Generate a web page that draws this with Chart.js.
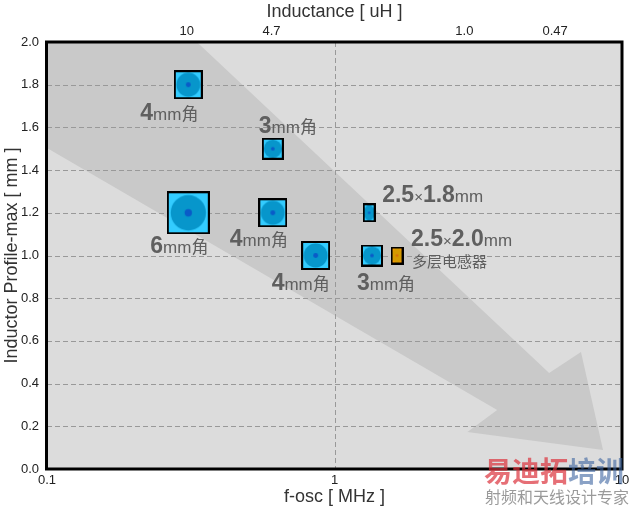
<!DOCTYPE html>
<html>
<head>
<meta charset="utf-8">
<script src="https://cdn.jsdelivr.net/npm/chart.js@4/dist/chart.umd.min.js"></script>
<style>
  html, body { margin: 0; padding: 0; background: #fff; }
  #wrap { width: 638px; height: 508px; }
</style>
</head>
<body>
<div id="wrap"><canvas id="chart" width="638" height="508"></canvas></div>
<script>
// wire-wound inductors (blue)
const wwFreq = [0.31, 0.61, 0.31, 0.61, 0.86, 1.32, 1.35];
const wwProfile = [1.8, 1.5, 1.2, 1.2, 1.0, 1.2, 1.0];
const wwLabels = ['4mm角', '3mm角', '6mm角', '4mm角', '4mm角', '2.5×1.8mm', '3mm角'];

// multilayer inductor (orange)
const mlFreq = [1.65];
const mlProfile = [1.0];
const mlLabels = ['2.5×2.0mm'];
const mlSubLabel = '多层电感器';

// axes
const xTicks = [0.1, 1, 10];
const yTicks = [0, 0.2, 0.4, 0.6, 0.8, 1.0, 1.2, 1.4, 1.6, 1.8, 2.0];
const inductanceLabels = ['10', '4.7', '1.0', '0.47'];
const inductanceAtFreq = [0.306, 0.604, 2.83, 5.85];

// background arrow outline, in (MHz, mm)
const arrowFreq = [0.1, 0.332, 5.58, 7.2, 8.59, 2.9, 3.68, 0.1];
const arrowProfile = [2.0, 2.0, 0.45, 0.548, 0.089, 0.173, 0.276, 1.503];

// marker looks (px sizes) and label offsets
const wwSizes = [[29, 29], [22, 22], [43, 43], [29, 29], [29, 29], [13, 19], [22, 22]];
const mlSizes = [[13, 18]];
const wwOffsets = [[-48, 35], [-14, -16], [-38, 40], [-43, 33], [-44, 34], [13, -11], [-15, 34]];
const mlOffsets = [[14, -10]];

const FONT = '"Liberation Sans", Arial, Helvetica, "Noto Sans CJK SC", sans-serif';

function makeMarker(w, h, outer, inner, dot) {
    const c = document.createElement('canvas');
    c.width = w;
    c.height = h;
    const g = c.getContext('2d');
    g.fillStyle = outer;
    g.fillRect(0, 0, w, h);
    g.fillStyle = inner;
    g.beginPath();
    g.ellipse(w / 2, h / 2, w * 0.41, h * 0.41, 0, 0, Math.PI * 2);
    g.fill();
    g.fillStyle = dot;
    g.beginPath();
    const r = Math.max(1.3, Math.min(w, h) * 0.085);
    g.arc(w / 2, h / 2, r, 0, Math.PI * 2);
    g.fill();
    g.strokeStyle = '#000';
    g.lineWidth = 2;
    g.strokeRect(1, 1, w - 2, h - 2);
    return c;
}

const wwMarkers = wwSizes.map(s => makeMarker(s[0], s[1], '#33ccff', '#0796cb', '#0a5bc8'));
const mlMarkers = mlSizes.map(s => makeMarker(s[0], s[1], '#ff9900', '#d49a00', '#d86a10'));

function drawLabel(ctx, text, x, y) {
    const parts = text.split(/([\d.]+)/).filter(p => p.length);
    ctx.textBaseline = 'alphabetic';
    ctx.textAlign = 'left';
    parts.forEach(p => {
        if (/^[\d.]+$/.test(p)) {
            ctx.font = 'bold 23px ' + FONT;
        } else if (p === '×') {
            ctx.font = '15px ' + FONT;
        } else {
            ctx.font = '17px ' + FONT;
        }
        ctx.fillText(p, x, y);
        x += ctx.measureText(p).width;
    });
}

const decorations = {
    id: 'decorations',
    beforeDraw(chart) {
        const { ctx, chartArea: a, scales } = chart;
        ctx.save();
        ctx.fillStyle = '#dcdcdc';
        ctx.fillRect(a.left, a.top, a.right - a.left, a.bottom - a.top);
        ctx.beginPath();
        ctx.rect(a.left, a.top, a.right - a.left, a.bottom - a.top);
        ctx.clip();
        ctx.fillStyle = '#c9c9c9';
        ctx.beginPath();
        arrowFreq.forEach((f, i) => {
            const px = scales.x.getPixelForValue(f);
            const py = scales.y.getPixelForValue(arrowProfile[i]);
            if (i === 0) ctx.moveTo(px, py); else ctx.lineTo(px, py);
        });
        ctx.closePath();
        ctx.fill();

        // dashed grid
        ctx.strokeStyle = '#999';
        ctx.lineWidth = 1;
        ctx.setLineDash([5, 3]);
        ctx.beginPath();
        yTicks.forEach(v => {
            const py = Math.round(scales.y.getPixelForValue(v)) + 0.5;
            ctx.moveTo(a.left, py);
            ctx.lineTo(a.right, py);
        });
        xTicks.forEach(v => {
            const px = Math.round(scales.x.getPixelForValue(v)) + 0.5;
            ctx.moveTo(px, a.top);
            ctx.lineTo(px, a.bottom);
        });
        ctx.stroke();
        ctx.restore();
    },
    afterDatasetsDraw(chart) {
        const ctx = chart.ctx;
        ctx.save();
        ctx.fillStyle = '#5f5f5f';
        const ww = chart.getDatasetMeta(0).data;
        ww.forEach((pt, i) => {
            drawLabel(ctx, wwLabels[i], pt.x + wwOffsets[i][0], pt.y + wwOffsets[i][1]);
        });
        const ml = chart.getDatasetMeta(1).data;
        ml.forEach((pt, i) => {
            drawLabel(ctx, mlLabels[i], pt.x + mlOffsets[i][0], pt.y + mlOffsets[i][1]);
            ctx.font = '15px ' + FONT;
            ctx.fillText(mlSubLabel, pt.x + mlOffsets[i][0] + 1, pt.y + 11);
        });
        ctx.restore();
    },
    afterDraw(chart) {
        const { ctx, chartArea: a } = chart;
        ctx.save();
        ctx.strokeStyle = '#000';
        ctx.lineWidth = 3;
        ctx.strokeRect(a.left - 0.5, a.top, a.right - a.left + 0.5, a.bottom - a.top);

        // watermark
        ctx.textBaseline = 'alphabetic';
        ctx.textAlign = 'left';
        ctx.font = 'bold 28px "Noto Sans CJK SC", sans-serif';
        ctx.fillStyle = 'rgba(220, 50, 60, 0.7)';
        ctx.fillText('易迪拓', 484, 482);
        const w = ctx.measureText('易迪拓').width;
        ctx.fillStyle = 'rgba(60, 100, 160, 0.6)';
        ctx.fillText('培训', 484 + w, 482);
        ctx.font = '16px "Noto Sans CJK SC", sans-serif';
        ctx.fillStyle = 'rgba(120, 120, 120, 0.75)';
        ctx.fillText('射频和天线设计专家', 485, 503);
        ctx.restore();
    }
};

new Chart(document.getElementById('chart'), {
    type: 'scatter',
    data: {
        datasets: [
            {
                label: 'wire-wound',
                data: wwFreq.map((f, i) => ({ x: f, y: wwProfile[i] })),
                pointStyle: wwMarkers,
                pointRadius: 3,
                pointHoverRadius: 3
            },
            {
                label: 'multilayer',
                data: mlFreq.map((f, i) => ({ x: f, y: mlProfile[i] })),
                pointStyle: mlMarkers,
                pointRadius: 3,
                pointHoverRadius: 3
            }
        ]
    },
    options: {
        responsive: false,
        animation: false,
        events: [],
        layout: { padding: { left: 0, right: 16, top: 0, bottom: 0 } },
        plugins: {
            legend: { display: false },
            tooltip: { enabled: false }
        },
        scales: {
            x: {
                type: 'logarithmic',
                position: 'bottom',
                min: 0.1,
                max: 10,
                afterBuildTicks: s => { s.ticks = xTicks.map(v => ({ value: v })); },
                afterFit: s => { s.height = 39; },
                grid: { display: false, drawTicks: false },
                border: { display: false },
                ticks: {
                    autoSkip: false,
                    maxRotation: 0,
                    padding: 4,
                    color: '#222',
                    font: { family: FONT, size: 13 },
                    callback: v => String(v)
                },
                title: {
                    display: true,
                    text: 'f-osc [ MHz ]',
                    color: '#333',
                    font: { family: FONT, size: 18 },
                    padding: { top: 0, bottom: 0 }
                }
            },
            x2: {
                type: 'logarithmic',
                position: 'top',
                min: 0.1,
                max: 10,
                afterBuildTicks: s => { s.ticks = inductanceAtFreq.map(v => ({ value: v })); },
                afterFit: s => { s.height = 42; },
                grid: { display: false, drawTicks: false },
                border: { display: false },
                ticks: {
                    autoSkip: false,
                    maxRotation: 0,
                    padding: 3,
                    color: '#222',
                    font: { family: FONT, size: 13 },
                    callback: (v, i) => inductanceLabels[i]
                },
                title: {
                    display: true,
                    text: 'Inductance [ uH ]',
                    color: '#333',
                    font: { family: FONT, size: 18 },
                    padding: { top: 1, bottom: 0 }
                }
            },
            y: {
                min: 0,
                max: 2,
                afterBuildTicks: s => { s.ticks = yTicks.map(v => ({ value: v })); },
                afterFit: s => { s.width = 47; },
                grid: { display: false, drawTicks: false },
                border: { display: false },
                ticks: {
                    padding: 8,
                    color: '#222',
                    font: { family: FONT, size: 13 },
                    callback: v => v.toFixed(1)
                },
                title: {
                    display: true,
                    text: 'Inductor Profile-max [ mm ]',
                    color: '#333',
                    font: { family: FONT, size: 18 },
                    padding: { top: 1, bottom: 0 }
                }
            }
        }
    },
    plugins: [decorations]
});
</script>
</body>
</html>
